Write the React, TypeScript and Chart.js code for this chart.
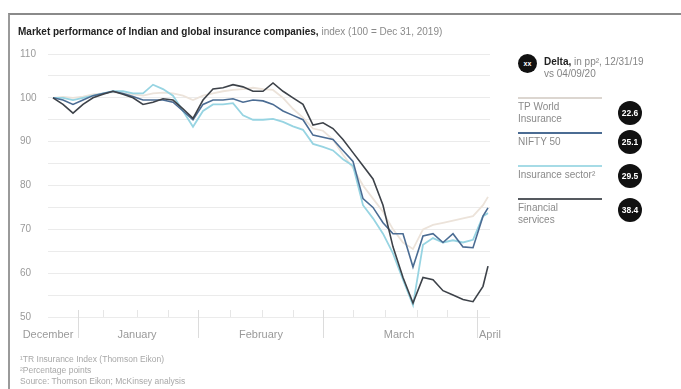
import React, { useEffect, useRef } from "react";
import { Chart, registerables } from "chart.js";

Chart.register(...registerables);

// sample points (approx. every other trading day), Dec 31, 2019 -> Apr 9, 2020
const days = [
  0, 1, 2, 3, 4, 5, 6, 7, 8, 9, 10, 11, 12, 13, 14, 15, 16, 17, 18, 19, 20, 21,
  22, 23, 24, 25, 26, 27, 28, 29, 30, 31, 32, 33, 34, 35, 36, 37, 38, 39, 40,
  41, 42, 43, 43.5,
];

const financialServices = [
  100, 98.5, 96.5, 98.5, 100, 100.8, 101.5, 100.8, 100, 98.5, 99, 99.8, 99.5,
  97.5, 95.3, 99.5, 102, 102.3, 103, 102.5, 101.5, 101.5, 103.4, 101.5, 100,
  98.5, 93.8, 94.3, 93, 90.5, 87.5, 84.5, 81.5, 75.5, 66, 59, 53.2, 59, 58.5,
  56, 55, 54, 53.5, 57, 61.6,
];

const nifty50 = [
  100, 99.5, 98.5, 99.5, 100.5, 101, 101.5, 101, 100.3, 99.5, 99.5, 99.5, 99,
  97, 95, 98.5, 99.5, 99.5, 99.8, 99, 99.5, 99.3, 98.5, 97, 96, 95, 91.5, 91,
  90.5, 88, 85.5, 77, 75, 71.5, 69, 69, 61.4, 68.5, 69, 67, 69, 66, 65.8, 73,
  74.9,
];

const insuranceSector = [
  100, 100, 99.5, 100, 100.5, 101, 101.5, 101.5, 101, 101, 103, 102, 100.5, 97,
  93.4, 97, 98.5, 98.5, 98.8, 96, 95, 95, 95.2, 94.5, 93.5, 92.7, 89.5, 88.8,
  88, 86, 84.5, 75.5, 72.5, 69, 64.5, 58.5, 52.7, 66.5, 68, 67, 67.5, 67, 67.6,
  73, 73.7,
];

const trWorldInsurance = [
  100, 100.2, 100, 100.3, 100.8, 101, 101.3, 101, 100.8, 100.5, 101, 101.2,
  101, 100.5, 99.5, 100.5, 101, 101.5, 101.8, 102, 102.3, 102, 101.8, 100,
  97.5, 95.5, 93, 92.5, 90.5, 87, 84, 80, 77, 74, 70, 67, 65.5, 70, 71, 71.5,
  72, 72.5, 73, 75.5, 77.4,
];

const monthLabels = ["December", "January", "February", "March", "April"];
const monthLabelPos = [-0.5, 8.4, 20.8, 34.6, 43.7];
const monthSeparators = [2.5, 14.5, 27, 42.4];
const weekTicks = [5, 8.4, 11.5, 17.7, 20.9, 24, 30, 33.2, 36.4, 39.4];

const seriesNames = [
  "TR World Insurance¹",
  "NIFTY 50",
  "Insurance sector²",
  "Financial services",
];
const deltas = ["22.6", "25.1", "29.5", "38.4"];
const colors = ["#ece3da", "#4b6c93", "#97d4e2", "#3d4249"];
const legendLineColors = ["#dcd6d0", "#4b6c93", "#a6dbe6", "#55595f"];

const FONT = "'Liberation Sans', Arial, sans-serif";

const axisDecor = {
  id: "axisDecor",
  afterDatasetsDraw(chart: any) {
    const { ctx, scales, chartArea } = chart;
    const x = scales.x;
    ctx.save();
    ctx.strokeStyle = "#dcdcdc";
    ctx.lineWidth = 1;
    monthSeparators.forEach((v) => {
      const px = Math.round(x.getPixelForValue(v)) + 0.5;
      ctx.beginPath();
      ctx.moveTo(px, chartArea.bottom - 7);
      ctx.lineTo(px, chartArea.bottom + 21);
      ctx.stroke();
    });
    ctx.strokeStyle = "#e6e6e6";
    weekTicks.forEach((v) => {
      const px = Math.round(x.getPixelForValue(v)) + 0.5;
      ctx.beginPath();
      ctx.moveTo(px, chartArea.bottom - 7);
      ctx.lineTo(px, chartArea.bottom);
      ctx.stroke();
    });
    ctx.restore();
  },
};

function ChartCanvas() {
  const ref = useRef<HTMLCanvasElement>(null);
  useEffect(() => {
    if (!ref.current) return;
    const mk = (label: string, data: number[], color: string, w: number) => ({
      label,
      data: days.map((d, i) => ({ x: d, y: data[i] })),
      borderColor: color,
      backgroundColor: color,
      borderWidth: w,
      pointRadius: 0,
      tension: 0,
    });
    const chart = new Chart(ref.current, {
      type: "line",
      data: {
        datasets: [
          mk(seriesNames[3], financialServices, colors[3], 1.6),
          mk(seriesNames[1], nifty50, colors[1], 1.6),
          mk(seriesNames[2], insuranceSector, colors[2], 1.8),
          mk(seriesNames[0], trWorldInsurance, colors[0], 1.8),
        ],
      },
      options: {
        animation: false,
        responsive: false,
        devicePixelRatio: 1,
        layout: { padding: { left: 20, right: 191, top: 54, bottom: 42 } },
        plugins: { legend: { display: false }, tooltip: { enabled: false } },
        scales: {
          x: {
            type: "linear",
            min: -0.5,
            max: 43.7,
            grid: { display: false },
            border: { display: false },
            afterBuildTicks: (s: any) => {
              s.ticks = monthLabelPos.map((v) => ({ value: v }));
            },
            afterFit: (s: any) => {
              s.height = 30;
            },
            ticks: {
              autoSkip: false,
              maxRotation: 0,
              padding: 3,
              color: "#9a9a9a",
              font: { family: FONT, size: 11 },
              callback: (v: any) => {
                const i = monthLabelPos.indexOf(Number(v));
                return i >= 0 ? monthLabels[i] : "";
              },
            },
          },
          y: {
            min: 50,
            max: 110,
            grid: { color: "#ebebeb", lineWidth: 1, drawTicks: false },
            border: { display: false },
            afterFit: (s: any) => {
              s.width = 28;
            },
            ticks: {
              stepSize: 5,
              crossAlign: "far",
              color: "#9a9a9a",
              font: { family: FONT, size: 10 },
              callback: (v: any) => (Number(v) % 10 === 0 ? String(v) : ""),
            },
          },
        },
      },
      plugins: [axisDecor],
    });
    return () => chart.destroy();
  }, []);
  return (
    <canvas
      ref={ref}
      width={681}
      height={389}
      style={{ position: "absolute", left: 0, top: 0, width: 681, height: 389 }}
    />
  );
}

const legendTops = [97, 132, 165, 198];
const legendLines = [
  ["TP World", "Insurance"],
  ["NIFTY 50"],
  ["Insurance sector²"],
  ["Financial", "services"],
];
const circleCenters = [113, 142, 176, 210];

export default function App() {
  return (
    <div
      style={{
        position: "fixed",
        left: 0,
        top: 0,
        width: 681,
        height: 389,
        background: "#fff",
        overflow: "hidden",
        fontFamily: FONT,
      }}
    >
      <div
        style={{
          position: "absolute",
          left: 8,
          top: 13,
          right: -4,
          bottom: -4,
          borderLeft: "2px solid #9a9a9a",
          borderTop: "2px solid #8a8a8a",
        }}
      />
      <ChartCanvas />
      <div
        style={{
          position: "absolute",
          left: 18,
          top: 26,
          fontSize: 10,
          lineHeight: "12px",
          whiteSpace: "nowrap",
          color: "#222",
        }}
      >
        <span style={{ fontWeight: "bold" }}>
          Market performance of Indian and global insurance companies,
        </span>
        <span style={{ color: "#8a8a8a" }}> index (100 = Dec 31, 2019)</span>
      </div>

      {/* legend header */}
      <div
        style={{
          position: "absolute",
          left: 518,
          top: 54,
          width: 19,
          height: 19,
          borderRadius: "50%",
          background: "#111",
          color: "#fff",
          fontSize: 7,
          fontWeight: "bold",
          lineHeight: "19px",
          textAlign: "center",
        }}
      >
        xx
      </div>
      <div
        style={{
          position: "absolute",
          left: 544,
          top: 56,
          fontSize: 10,
          lineHeight: "12px",
          color: "#858585",
          whiteSpace: "nowrap",
        }}
      >
        <span style={{ fontWeight: "bold", color: "#222" }}>Delta,</span> in pp², 12/31/19
        <br />
        vs 04/09/20
      </div>

      {legendTops.map((t, i) => (
        <React.Fragment key={i}>
          <div
            style={{
              position: "absolute",
              left: 518,
              top: t,
              width: 84,
              height: 1.5,
              background: legendLineColors[i],
            }}
          />
          <div
            style={{
              position: "absolute",
              left: 518,
              top: t + 4,
              fontSize: 10,
              lineHeight: "12px",
              color: "#8a8a8a",
              whiteSpace: "nowrap",
            }}
          >
            {legendLines[i].map((l, j) => (
              <div key={j}>{l}</div>
            ))}
          </div>
          <div
            style={{
              position: "absolute",
              left: 618,
              top: circleCenters[i] - 12,
              width: 24,
              height: 24,
              borderRadius: "50%",
              background: "#111",
              color: "#fff",
              fontSize: 8.5,
              fontWeight: "bold",
              lineHeight: "24px",
              textAlign: "center",
            }}
          >
            {deltas[i]}
          </div>
        </React.Fragment>
      ))}

      <div
        style={{
          position: "absolute",
          left: 20,
          top: 354,
          fontSize: 8.5,
          lineHeight: "11px",
          color: "#a8a8a8",
          whiteSpace: "nowrap",
        }}
      >
        <div>¹TR Insurance Index (Thomson Eikon)</div>
        <div>²Percentage points</div>
        <div>Source: Thomson Eikon; McKinsey analysis</div>
      </div>
    </div>
  );
}
